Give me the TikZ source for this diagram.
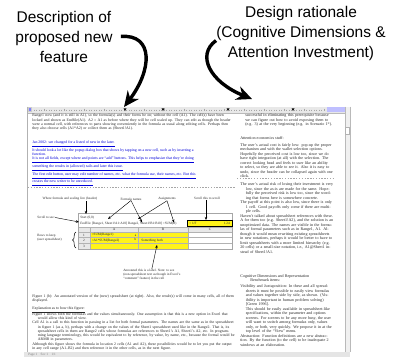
\documentclass[tikz,border=0pt]{standalone}
\usepackage{fontspec}
\setmainfont{Liberation Serif}
\newfontfamily\annotfont{Liberation Sans}
\usetikzlibrary{arrows.meta,decorations.pathreplacing}

\colorlet{linkblue}{blue!85!black}
\colorlet{cellyellow}{yellow!90!white}
\colorlet{chrome}{gray!18}
\newcommand\hpar{\par\hangindent=4pt\hangafter=1\relax}

\begin{document}
\begin{tikzpicture}[x=0.025cm,y=-0.025cm]
  \tikzset{every node/.style={inner sep=0pt},
    annot/.style={font=\annotfont\fontsize{11}{14.2}\selectfont,align=center},
    bigarrow/.style={line width=2.4pt,-{Stealth[length=11pt,width=10pt]}},
    doc/.style={anchor=north west,align=left,font=\fontsize{2.75}{3.06}\selectfont,text=black!85},
    rdoc/.style={doc,font=\fontsize{2.9}{3.2}\selectfont},
    link/.style={doc,text=linkblue},
    lbl/.style={font=\fontsize{2.4}{2.8}\selectfont,align=left,text=black!85},
    pointer/.style={line width=0.3pt,-{Stealth[length=2.2pt,width=1.8pt]}},
    cellgrid/.style={gray!60,line width=0.2pt}};
  \useasboundingbox (0,0) rectangle (394,357);
  % annotations above the screenshot
  \node[annot] (descr) at (64,37) {Description of\\proposed new\\feature};
  \node[annot] (ratio) at (301,33.5) {Design rationale\\(Cognitive Dimensions \&\\Attention Investment)};
  \coordinate (ltip) at (124,107);
  \coordinate (rtip) at (252,99);
  \draw[bigarrow,shorten <=0.2cm] (descr.east) .. controls (154,34) and (152,70) .. (ltip);
  \draw[bigarrow] ([yshift=-5pt]ratio.west) .. controls (196,55) and (210,82) .. (rtip);
  % window chrome
  \fill[chrome] (27,106.5) rectangle (349,113);
  \foreach \x in {34,36.5,...,325} \draw[gray!70,line width=0.2pt] (\x,109.6) -- (\x,110.8);
  \foreach \x in {44,64,...,324} \draw[gray!70,line width=0.2pt] (\x,108.6) -- (\x,111.4);
  \foreach \x in {125,163,228,293} \fill (\x,111) -- (\x-1.5,108.3) -- (\x+1.5,108.3) -- cycle;
  \fill[blue!25] (327,107) rectangle (345,112);
  \fill[gray!40] (27,107) rectangle (32,112);
  \fill[blue!50] (28.5,108) rectangle (30.5,111);
  \draw[gray!55,line width=0.3pt] (27,113) -- (345,113);
  \draw[gray!60,line width=0.4pt] (27,106.5) -- (27,352);
  \fill[gray!12] (345,106.5) rectangle (350,352);
  \draw[gray!55,line width=0.3pt] (345,106.5) -- (345,352) (350,106.5) -- (350,352);
  \draw[gray!60,line width=0.3pt,fill=white] (345.6,127) rectangle (349.4,134);
  \fill[gray!20] (24,351.5) rectangle (350,357);
  \node[lbl,anchor=west,text=gray] (status) at (28,354.3) {Page 1\quad Sec 1\quad 1/1};
  % page breaks
  \draw[gray!70,line width=0.3pt,dash pattern=on 1pt off 1pt] (28,187) -- (235,187);
  \draw[gray!70,line width=0.3pt,dash pattern=on 1pt off 1pt] (237,178) -- (333,178);
  \begin{scope}
  \clip (27,113) rectangle (345,351.5);
  % left pane: proposal
  \node[doc,text width=5.07cm] (intro) at (32,113.8) {Range1 now (and it is still in A1), so the formula(s) and their forms be on; without the cell (A1). The cell(s) have been locked and shown as Endfile(A1). A2 = A1 as before where they will be cell scaled up. They can edit as though the header were a normal cell, with references to parts showing conveniently in the formula as usual along editing cells. Perhaps then they also choose cells (A1*A2) or collect them as (Sheet1!A1).};
  \node[link] (links) at (32,140.3) {\underline{Jan 2002: see changed for a listed of new in the later.}\\
    It should look a lot like the popup dialog box that shows by tapping on a new cell, such as by inserting a\\
    function.\\
    \underline{It is not all fields, except where and points are ``add'' buttons. This helps to emphasize that they're doing}\\
    \underline{something the results in (allowed) rails and later this issue.}\\
    \underline{The first edit button, user may edit number of names, etc. what the formula use, their names, etc. But this}\\
    \underline{creates the new writer to be unreduced.}};
  \node[doc,text width=5.07cm] (caption) at (32,294.5) {Figure 1 (b): An annotated version of the (new) spreadsheet (at right). Also, the result(s) will come in many cells, all of them displayed.};
  \node[doc] (explhead) at (32,306) {\underline{Explanation as to how this figure:}};
  \node[doc,text width=5.07cm] (explain) at (32,310.5) {\hpar Figure 1 shows both the formulas and the values simultaneously. One assumption is that this is a new option in Excel that would allow this kind of view.
    \hpar Cell A1 is a call to this function in passing in a list for both formal parameters. The names are the same as in the spreadsheet in figure 1 (as a, b), perhaps with a change on the values of the Sheet1 spreadsheet used like in the Range2. That is, its spreadsheet cells in them are Range2 cells whose formulas are references to Sheet1's A1, Sheet1's A2, etc. In programming language terminology, this would be equivalent to by reference, by value, by name, etc., because the formal would be ARMB in parameters.
    \hpar Although this figure shows the formula in location 2 cells (A1 and A2), these possibilities would be to let you put the output in any cell range (A1..B2) and then reference it in the other cells, as in the next figure.};
  % right pane: rationale
  \node[rdoc,text width=2.2cm] (rtop) at (245,113.8) {successful in eliminating this prerequisite because we can figure out how to avoid exposing them to (e.g. 3) at the very beginning (e.g. in Scenario 1*).};
  \node[rdoc] (attnhead) at (240,136.8) {Attention economics stuff:};
  \node[rdoc,text width=2.33cm] (attn) at (240,141.3) {\hpar The user's actual cost is fairly low: pop-up the proper mechanism and with the wallet selection options. Hopefully the perceived cost is low too, since we do have tight integration (at all) with the selection. The correct looking head and feels to user like an ability to select, so they are able to see it. Also it is easy to undo, since the header can be collapsed again with one click.};
  \node[rdoc,text width=2.33cm] (attn2) at (240,180.8) {\hpar The user's actual risk of losing their investment is very low, since the as-is are made for the same. Hopefully the perceived risk is low too, since the wording that forms here is somewhere concrete.
    \hpar The payoff at this point is also low, since there is only 1 cell. Good payoffs only come if there are multiple cells.
    \hpar Haven't talked about spreadsheet references with these. A for them too (e.g. Sheet1!A2), and the solution is an unoptimized data. The names are visible in the formulas of formal parameters such as in Range1, A1. Although it would mean rewriting existing spreadsheets in new notations, perhaps it would be better to have to limit spreadsheets with a more limited hierarchy (e.g. 20 cells) or a small-size notation, i.e., A1@Sheet1 instead of Sheet1!A1.};
  \node[rdoc] (cdhead) at (240,274) {Cognitive Dimensions and Representation};
  \node[rdoc] (bench) at (250,278.3) {Benchmark items:};
  \node[rdoc,text width=2.33cm] (cdims) at (240,283) {\hpar Visibility and Juxtaposition: In these and all spreadsheets it must be possible to easily view formulas and values together side by side, as shown. (Visibility is important in human problem solving) [Green 1996].\par
    {\leftskip=4pt This should be easily available in spreadsheet-like specifications, within the parameter and options screens. For screens to be any more busy, the user will want to switch among formulas only, values only, or both, very quickly. We propose it in at the top level of the ``View'' menu.\par}
    \hpar Abstraction: Function definitions are a new abstraction. By the function (to the cell) to be inadequate 2 windows at an elaboration.};
  \end{scope}
  % spreadsheet figure
  \node[lbl] (wherelbl) at (70,199) {Where formula and scaling live (header)};
  \node[lbl] (fnames) at (131,199) {Formula names};
  \node[lbl] (assign) at (167,199) {Assignments};
  \node[lbl] (scrolllbl) at (207,198.5) {Scroll this to scroll};
  \node[lbl,anchor=west] (seelbl) at (37,217.5) {Scroll to see:};
  \node[lbl,anchor=west] (rowlbl) at (37,238) {Rows to keep\\(user spreadsheet)};
  \node[lbl,anchor=north west] (notelbl) at (123,269) {Annotated this is a label. Note: to see\\(non-spreadsheet text as though in Excel's\\``comment'' feature) in the cell};
  \fill[chrome] (78,227) rectangle (232,232);
  \fill[chrome] (78,232) rectangle (90,249);
  \fill[cellyellow] (90,232) rectangle (188,249);
  \draw[cellgrid] (78,227) -- (232,227) (78,232) -- (232,232) (78,237.5) -- (232,237.5) (78,243) -- (232,243);
  \draw[cellgrid] (90,227) -- (90,249) (138,227) -- (138,249) (188,227) -- (188,249);
  \draw[gray!70,line width=0.3pt] (78,213) rectangle (232,249);
  \node[lbl,anchor=west] (start) at (80,217.5) {Start (0,0)};
  \node[lbl,anchor=west] (fbar) at (80,223.3) {EndFile [Range1, Sheet1!A1:A10] Range2, Sheet1!B1:B10] =SUM(R)};
  \draw[black,line width=0.3pt,fill=cellyellow] (187,220.5) rectangle (232,226);
  \node[lbl,anchor=west] (fres) at (189,223.3) {= 1/F};
  \node[lbl,anchor=east] (fval) at (230,223.3) {1.24};
  \node[lbl] (colA) at (114,229.6) {A};
  \node[lbl] (colB) at (163,229.6) {B};
  \node[lbl] (colC) at (210,229.6) {C};
  \node[lbl] (row1) at (84,234.9) {1};
  \node[lbl] (row2) at (84,240.4) {2};
  \node[lbl] (row3) at (84,246) {3};
  \node[lbl,anchor=west] (a1) at (91.5,234.9) {=SUM(Range1)};
  \node[lbl,anchor=west] (a2) at (91.5,240.4) {=A1*SUM(Range2)};
  \node[lbl,align=center] (ab) at (135.5,237.6) {a\\b};
  \node[lbl,anchor=west] (b2) at (141,240.4) {Something both};
  \coordinate (tHeader) at (86,214);
  \coordinate (tName1) at (108,219);
  \coordinate (tName2) at (142,222.5);
  \coordinate (tAsg1) at (138,219);
  \coordinate (tAsg2) at (174,222.5);
  \coordinate (tScroll) at (206,220);
  \coordinate (tSee) at (79,222);
  \coordinate (tNote) at (157,245);
  \draw[pointer] (wherelbl.south -| tHeader) -- (tHeader);
  \draw[pointer] (fnames.south) -- (tName1);
  \draw[pointer] (fnames.south) -- (tName2);
  \draw[pointer] (assign.south) -- (tAsg1);
  \draw[pointer] (assign.south) -- (tAsg2);
  \draw[pointer] (scrolllbl.south -| tScroll) -- (tScroll);
  \draw[pointer] (seelbl.east) -- (tSee);
  \draw[pointer] (notelbl.north) -- (tNote);
  \draw[decorate,decoration={brace,amplitude=2.5pt},line width=0.35pt] (76,248) -- (76,232);
\end{tikzpicture}
\end{document}
